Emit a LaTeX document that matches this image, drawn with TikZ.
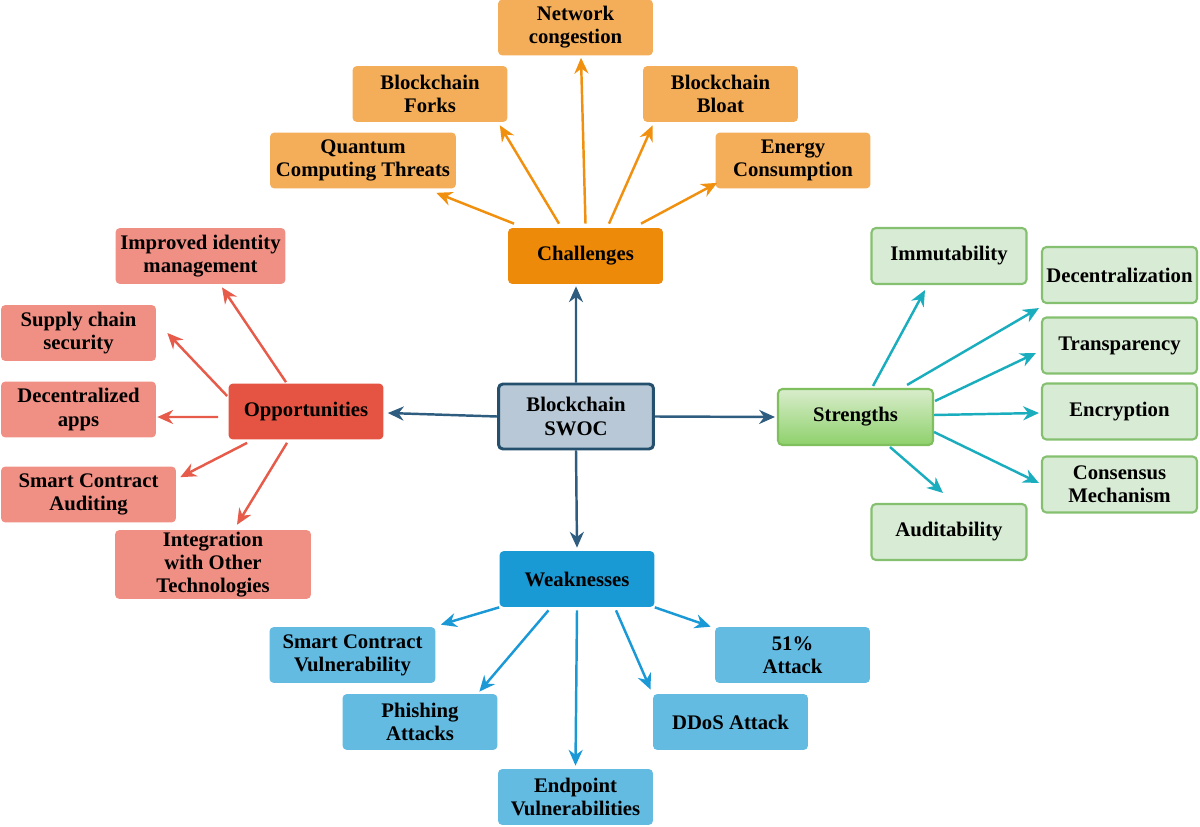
\documentclass[tikz,border=0pt]{standalone}
\usepackage{fontspec}
\setmainfont{Liberation Serif}
\usetikzlibrary{arrows.meta}

\definecolor{swocfill}{HTML}{B8C8D6}
\definecolor{swocline}{HTML}{24506E}
\definecolor{swocarrow}{HTML}{2F5D80}
\definecolor{chalmain}{HTML}{EE8A0A}
\definecolor{chalkid}{HTML}{F4AE5A}
\definecolor{chalarrow}{HTML}{F0900E}
\definecolor{oppmain}{HTML}{E55442}
\definecolor{oppkid}{HTML}{F09085}
\definecolor{opparrow}{HTML}{E65B4A}
\definecolor{strtop}{HTML}{D9EDCC}
\definecolor{strbot}{HTML}{8ED16B}
\definecolor{strline}{HTML}{7FBF5E}
\definecolor{strkid}{HTML}{D8EBD4}
\definecolor{strkidline}{HTML}{85C070}
\definecolor{strarrow}{HTML}{1AADBE}
\definecolor{weakmain}{HTML}{1A9AD5}
\definecolor{weakkid}{HTML}{63BBE2}
\definecolor{weakarrow}{HTML}{1B99D6}

\begin{document}
\begin{tikzpicture}[
    x=0.02cm, y=-0.02cm,
    >={Stealth[length=9pt,width=8pt]},
    box/.style={
        rectangle,
        rounded corners=2.5pt,
        minimum width=3.1cm,
        minimum height=1.12cm,
        inner sep=1pt,
        align=center,
        font=\fontsize{11.8}{13.2}\selectfont\bfseries
    },
    swocbox/.style={box, fill=swocfill, draw=swocline, line width=1.7pt, minimum height=1.3cm},
    chalbox/.style={box, fill=chalkid},
    oppbox/.style={box, fill=oppkid},
    strbox/.style={box, fill=strkid, draw=strkidline, line width=1.2pt},
    weakbox/.style={box, fill=weakkid}
]
\useasboundingbox (0,0) rectangle (1200,827);

% Centre
\node[swocbox] (swoc) at (576,416.5) {Blockchain\\SWOC};

% Four main branches
\node[box, fill=chalmain] (chal) at (585.5,256) {Challenges};
\node[box, fill=oppmain] (opp) at (306,411.5) {Opportunities};
\node[box, top color=strtop, bottom color=strbot, draw=strline, line width=1.2pt] (str) at (855.5,417) {Strengths};
\node[box, fill=weakmain] (weak) at (577,579) {Weaknesses};

% Challenges
\node[chalbox] (net) at (575.5,27.5) {Network\\congestion};
\node[chalbox] (forks) at (430,94) {Blockchain\\Forks};
\node[chalbox] (bloat) at (720.5,94) {Blockchain\\Bloat};
\node[chalbox, minimum width=3.72cm] (quant) at (363,160.5) {Quantum\\Computing Threats};
\node[chalbox] (energy) at (793,160.5) {Energy\\Consumption};

% Opportunities
\node[oppbox, minimum width=3.4cm] (ident) at (200.5,256) {Improved identity\\management};
\node[oppbox] (supply) at (78.5,333) {Supply chain\\security};
\node[oppbox] (dapps) at (78.5,409.5) {Decentralized\\apps};
\node[oppbox, minimum width=3.5cm] (audit) at (88.5,494.5) {Smart Contract\\Auditing};
\node[oppbox, minimum width=3.92cm, minimum height=1.3cm] (integ) at (213,564.5) {Integration\\with Other\\Technologies};

% Strengths
\node[strbox] (immut) at (949,256) {Immutability};
\node[strbox] (decen) at (1119.5,275) {Decentralization};
\node[strbox] (transp) at (1119.5,345.5) {Transparency};
\node[strbox] (encr) at (1119.5,411.5) {Encryption};
\node[strbox] (consen) at (1119.5,484.5) {Consensus\\Mechanism};
\node[strbox] (audi) at (949,532) {Auditability};

% Weaknesses
\node[weakbox, minimum width=3.32cm] (scv) at (352.5,655) {Smart Contract\\Vulnerability};
\node[weakbox] (phish) at (420,722) {Phishing\\Attacks};
\node[weakbox] (endp) at (575.5,797) {Endpoint\\Vulnerabilities};
\node[weakbox] (ddos) at (730.5,722) {DDoS Attack};
\node[weakbox] (att) at (792.5,655) {51\%\\Attack};

% Centre connections
\draw[->, line width=1.4pt, swocarrow] (swoc.north) -- ([xshift=-0.19cm,yshift=-0.04cm]chal.south);
\draw[->, line width=1.4pt, swocarrow] (swoc.west) -- ([xshift=0.08cm,yshift=-0.03cm]opp.east);
\draw[->, line width=1.4pt, swocarrow] (swoc.east) -- ([xshift=-0.04cm]str.west);
\draw[->, line width=1.4pt, swocarrow] (swoc.south) -- ([yshift=0.06cm]weak.north);

% Challenges connections
\draw[->, line width=1.4pt, chalarrow] ([xshift=-1.43cm,yshift=0.08cm]chal.north) -- ([xshift=-0.4cm,yshift=-0.08cm]quant.south east);
\draw[->, line width=1.4pt, chalarrow] ([xshift=-0.53cm,yshift=0.08cm]chal.north) -- ([xshift=-0.16cm,yshift=-0.06cm]forks.south east);
\draw[->, line width=1.4pt, chalarrow] ([yshift=0.08cm]chal.north) -- ([xshift=0.11cm,yshift=-0.04cm]net.south);
\draw[->, line width=1.4pt, chalarrow] ([xshift=0.47cm,yshift=0.08cm]chal.north) -- ([xshift=0.2cm,yshift=-0.06cm]bloat.south west);
\draw[->, line width=1.4pt, chalarrow] ([xshift=1.11cm,yshift=0.08cm]chal.north) -- ([xshift=0.04cm,yshift=0.12cm]energy.south west);

% Opportunities connections
\draw[->, line width=1.4pt, opparrow] ([xshift=-0.4cm,yshift=0.02cm]opp.north) -- ([xshift=0.43cm,yshift=-0.06cm]ident.south);
\draw[->, line width=1.4pt, opparrow] ([xshift=-0.02cm,yshift=0.31cm]opp.west) -- ([xshift=0.22cm]supply.east);
\draw[->, line width=1.4pt, opparrow] ([xshift=-0.2cm,yshift=-0.11cm]opp.west) -- ([xshift=0.02cm,yshift=-0.15cm]dapps.east);
\draw[->, line width=1.4pt, opparrow] ([xshift=0.38cm,yshift=-0.06cm]opp.south west) -- ([xshift=0.08cm,yshift=-0.22cm]audit.north east);
\draw[->, line width=1.4pt, opparrow] ([xshift=-0.38cm,yshift=-0.06cm]opp.south) -- ([xshift=0.48cm,yshift=0.1cm]integ.north);

% Strengths connections
\draw[->, line width=1.4pt, strarrow] ([xshift=0.35cm,yshift=0.04cm]str.north) -- ([xshift=-0.48cm,yshift=-0.1cm]immut.south);
\draw[->, line width=1.4pt, strarrow] ([xshift=-0.54cm,yshift=0.06cm]str.north east) -- ([xshift=-0.04cm,yshift=-0.08cm]decen.south west);
\draw[->, line width=1.4pt, strarrow] ([xshift=0.02cm,yshift=0.32cm]str.east) -- ([xshift=-0.1cm,yshift=-0.15cm]transp.west);
\draw[->, line width=1.4pt, strarrow] ([yshift=0.04cm]str.east) -- ([xshift=-0.04cm,yshift=-0.03cm]encr.west);
\draw[->, line width=1.4pt, strarrow] ([yshift=-0.3cm]str.east) -- ([xshift=-0.04cm,yshift=0.03cm]consen.west);
\draw[->, line width=1.4pt, strarrow] ([xshift=0.69cm,yshift=-0.02cm]str.south) -- ([xshift=-0.12cm,yshift=0.2cm]audi.north);

% Weaknesses connections
\draw[->, line width=1.4pt, weakarrow] (weak.south west) -- ([xshift=0.1cm,yshift=0.04cm]scv.north east);
\draw[->, line width=1.4pt, weakarrow] ([xshift=-0.57cm,yshift=-0.06cm]weak.south) -- ([xshift=-0.37cm,yshift=0.04cm]phish.north east);
\draw[->, line width=1.4pt, weakarrow] ([yshift=-0.06cm]weak.south) -- ([yshift=0.06cm]endp.north);
\draw[->, line width=1.4pt, weakarrow] ([xshift=0.78cm,yshift=-0.06cm]weak.south) -- ([xshift=-0.04cm,yshift=0.08cm]ddos.north west);
\draw[->, line width=1.4pt, weakarrow] (weak.south east) -- ([xshift=-0.08cm]att.north west);

\end{tikzpicture}
\end{document}
